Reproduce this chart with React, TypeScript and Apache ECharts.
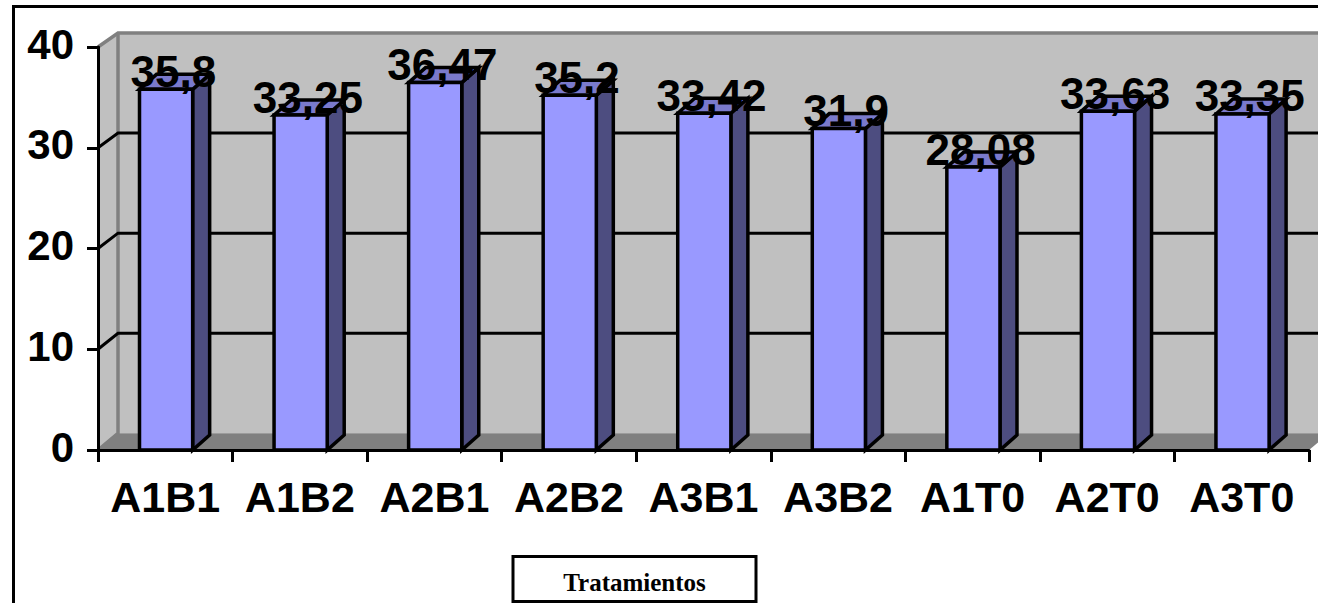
import React, { useEffect, useRef } from "react";
import * as echarts from "echarts";

const categories = ["A1B1", "A1B2", "A2B1", "A2B2", "A3B1", "A3B2", "A1T0", "A2T0", "A3T0"];
const values = [35.8, 33.25, 36.47, 35.2, 33.42, 31.9, 28.08, 33.63, 33.35];
const yTicks = [0, 10, 20, 30, 40];
const axisTitle = "Tratamientos";

const SANS = "'Liberation Sans', Arial, sans-serif";
const SERIF = "'Liberation Serif', 'Times New Roman', serif";

// Depth offsets of the pseudo-3D chart box and of each column.
const WALL_DX = 20;
const BAR_DX = 17;
const BAR_DY = -15;

// The back wall is slightly shorter than the front plane, so its lift grows toward the floor.
const wallY = (y: number, yTop: number, yBase: number) =>
  y - 14 - ((y - yTop) / (yBase - yTop)) * 2.7;

const commaValue = (v: number) => String(v).replace(".", ",");

export default function App() {
  const ref = useRef<HTMLDivElement>(null);

  useEffect(() => {
    document.body.style.margin = "0";
    document.body.style.background = "#fff";
    const chart = echarts.init(ref.current!, undefined, { renderer: "svg" });

    chart.setOption({
      animation: false,
      backgroundColor: "#ffffff",
      grid: { left: 98, right: 9, top: 47, bottom: 153, containLabel: false },
      xAxis: {
        type: "category",
        data: categories,
        z: 4,
        axisLine: { lineStyle: { color: "#000", width: 3 } },
        axisTick: { show: true, interval: 0, length: 12, alignWithLabel: false, lineStyle: { color: "#000", width: 3 } },
        axisLabel: {
          color: "#000",
          fontFamily: SANS,
          fontWeight: "bold",
          fontSize: 43,
          margin: 25,
          interval: 0,
          hideOverlap: false,
        },
        splitLine: { show: false },
      },
      yAxis: {
        type: "value",
        min: 0,
        max: 40,
        interval: 10,
        z: 4,
        axisLine: { show: true, lineStyle: { color: "#000", width: 3 } },
        axisTick: { show: true, length: 11, lineStyle: { color: "#000", width: 3 } },
        axisLabel: {
          color: "#000",
          fontFamily: SANS,
          fontWeight: "bold",
          fontSize: 42,
          margin: 24,
          verticalAlign: "bottom",
          lineHeight: 6,
        },
        splitLine: { show: false },
      },
      graphic: [
        {
          type: "polyline",
          z: 10,
          shape: { points: [[13.5, 603], [13.5, 6.5], [1318, 6.5]] },
          style: { stroke: "#000", lineWidth: 3, fill: "none" },
        },
        {
          type: "rect",
          z: 10,
          shape: { x: 513, y: 556.5, width: 243, height: 45 },
          style: { fill: "#fff", stroke: "#000", lineWidth: 3 },
        },
        {
          type: "text",
          z: 11,
          x: 634.5,
          y: 582,
          style: {
            text: axisTitle,
            fill: "#000",
            font: `bold 25px ${SERIF}`,
            align: "center",
            verticalAlign: "middle",
          },
        },
      ],
      series: [
        {
          // Box behind the columns: side wall, floor, back wall.
          type: "custom",
          z: 1,
          silent: true,
          clip: false,
          coordinateSystem: "cartesian2d",
          data: [[0, 0]],
          encode: { x: 0, y: 1 },
          renderItem: (_p: any, api: any) => {
            const [, y0] = api.coord([0, 0]);
            const [, yMax] = api.coord([0, 40]);
            const size = api.size([1, 0])[0];
            const x0 = api.coord([0, 0])[0] - size / 2;
            const x1 = x0 + size * categories.length;
            const bx = x0 + WALL_DX;
            const by0 = wallY(y0, yMax, y0);
            const byMax = wallY(yMax, yMax, y0);
            const edge = { stroke: "#808080", lineWidth: 3.5, fill: "none" };
            return {
              type: "group",
              children: [
                { type: "polygon", shape: { points: [[bx, byMax], [x1 + 40, byMax], [x1 + 40, by0], [bx, by0]] }, style: { fill: "#C0C0C0" } },
                { type: "polygon", shape: { points: [[x0, yMax], [bx, byMax], [bx, by0], [x0, y0]] }, style: { fill: "#C0C0C0" } },
                { type: "polygon", shape: { points: [[x0, y0], [bx, by0], [x1 + WALL_DX, by0], [x1, y0]] }, style: { fill: "#808080" } },
                { type: "polyline", shape: { points: [[x0, yMax], [bx, byMax], [x1 + 40, byMax]] }, style: edge },
                { type: "polyline", shape: { points: [[bx, byMax], [bx, by0], [x0, y0]] }, style: edge },
              ],
            };
          },
        },
        {
          // Gridlines, carried across the side wall and along the back wall.
          type: "custom",
          z: 1,
          silent: true,
          clip: false,
          coordinateSystem: "cartesian2d",
          data: yTicks.slice(1, -1).map((t) => [0, t]),
          encode: { x: 0, y: 1 },
          renderItem: (_p: any, api: any) => {
            const [cx, y] = api.coord([0, api.value(1)]);
            const [, y0] = api.coord([0, 0]);
            const [, yMax] = api.coord([0, 40]);
            const size = api.size([1, 0])[0];
            const x0 = cx - size / 2;
            const x1 = x0 + size * categories.length;
            const by = wallY(y, yMax, y0);
            return {
              type: "polyline",
              shape: { points: [[x0, y], [x0 + WALL_DX, by], [x1 + 40, by]] },
              style: { stroke: "#000", lineWidth: 3, fill: "none" },
            };
          },
        },
        {
          // Columns drawn as front, side and top faces.
          type: "custom",
          z: 2,
          clip: false,
          coordinateSystem: "cartesian2d",
          data: values.map((v, i) => [i, v]),
          encode: { x: 0, y: 1 },
          renderItem: (_p: any, api: any) => {
            const [cx, yTop] = api.coord([api.value(0), api.value(1)]);
            const [, yBase] = api.coord([api.value(0), 0]);
            const w = api.size([1, 0])[0] * 0.395;
            const l = cx - w / 2 + 0.8;
            const r = l + w;
            const line = { stroke: "#000", lineWidth: 3.5, lineJoin: "miter" };
            return {
              type: "group",
              children: [
                { type: "polygon", shape: { points: [[r, yTop], [r + BAR_DX, yTop + BAR_DY], [r + BAR_DX, yBase + BAR_DY], [r, yBase]] }, style: { ...line, fill: "#4D4D80" } },
                { type: "polygon", shape: { points: [[l, yTop], [l + BAR_DX, yTop + BAR_DY], [r + BAR_DX, yTop + BAR_DY], [r, yTop]] }, style: { ...line, fill: "#7A7ACC" } },
                { type: "rect", shape: { x: l, y: yTop, width: w, height: yBase - yTop }, style: { ...line, fill: "#9999FF" } },
              ],
            };
          },
        },
        {
          // Value labels above the columns.
          type: "scatter",
          z: 6,
          symbolSize: 0,
          silent: true,
          itemStyle: { opacity: 1 },
          data: values.map((v, i) => [i, v]),
          label: {
            show: true,
            position: "top",
            offset: [8, 4],
            distance: 0,
            color: "#000",
            opacity: 1,
            fontFamily: SANS,
            fontWeight: "bold",
            fontSize: 44,
            formatter: (p: any) => commaValue(p.value[1]),
          },
        },
      ],
    });

    return () => chart.dispose();
  }, []);

  return <div ref={ref} style={{ width: 1318, height: 603 }} />;
}
